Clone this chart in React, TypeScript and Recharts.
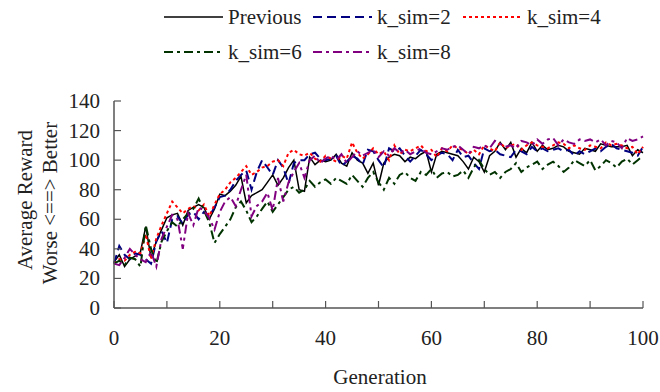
import { LineChart, Line, XAxis, YAxis } from "recharts"

const generations = Array.from({ length: 101 }, (_, i) => i)

const previous = [
  31, 36, 28, 33, 35, 38, 55, 34, 45, 53, 61, 63, 64, 56, 66, 68, 70, 68, 60, 67,
  77, 76, 79, 83, 89, 71, 76, 78, 80, 85, 90, 83, 88, 95, 100, 80, 79, 102, 97, 100,
  99, 100, 104, 98, 96, 105, 100, 98, 91, 98, 83, 98, 102, 104, 103, 99, 102, 101, 104, 106,
  92, 104, 106, 105, 104, 103, 99, 94, 102, 99, 92, 103, 106, 112, 107, 112, 102, 108, 105, 112,
  106, 110, 107, 108, 110, 109, 106, 105, 104, 108, 107, 106, 111, 110, 109, 109, 109, 110, 103, 107,
  105,
]

const ksim2 = [
  30, 42, 36, 33, 37, 36, 33, 30, 45, 52, 44, 60, 62, 57, 63, 65, 60, 65, 62, 68,
  75, 76, 80, 86, 90, 93, 80, 92, 100, 95, 90, 100, 95, 84, 98, 100, 100, 104, 105, 101,
  100, 101, 103, 96, 99, 103, 101, 97, 107, 106, 100, 95, 108, 106, 108, 103, 99, 103, 107, 104,
  100, 103, 105, 104, 100, 107, 102, 103, 98, 94, 108, 106, 107, 104, 103, 102, 107, 106, 104, 109,
  106, 108, 106, 107, 108, 106, 107, 103, 106, 104, 106, 108, 106, 109, 111, 108, 107, 106, 105, 103,
  109,
]

const ksim4 = [
  30, 33, 32, 36, 38, 37, 50, 33, 47, 56, 64, 72, 68, 64, 67, 69, 66, 70, 62, 70,
  77, 80, 85, 88, 92, 96, 90, 92, 95, 96, 99, 100, 96, 105, 107, 104, 103, 105, 101, 99,
  103, 101, 99, 103, 101, 112, 105, 101, 104, 108, 104, 106, 100, 110, 104, 107, 106, 108, 110, 106,
  107, 102, 108, 106, 110, 108, 107, 104, 107, 104, 110, 108, 106, 112, 108, 110, 111, 107, 110, 112,
  110, 109, 108, 110, 112, 111, 108, 110, 108, 107, 110, 109, 108, 112, 110, 111, 110, 108, 109, 104,
  109,
]

const ksim6 = [
  30, 32, 29, 34, 33, 28, 56, 40, 30, 45, 52, 58, 55, 60, 64, 67, 74, 66, 58, 44,
  50, 55, 60, 68, 72, 66, 58, 62, 67, 72, 65, 70, 75, 80, 82, 78, 80, 86, 82, 85,
  87, 84, 88, 86, 84, 90, 86, 82, 88, 92, 85, 80, 88, 84, 90, 92, 88, 86, 92, 90,
  94, 88, 91, 92, 89, 90, 93, 88, 95, 100, 94, 90, 92, 88, 92, 94, 98, 92, 95, 97,
  99, 94, 97, 99, 96, 92, 95, 100, 98, 96, 100, 93, 96, 100, 98, 95, 99, 101, 97, 100,
  103,
]

const ksim8 = [
  30, 29, 34, 40, 36, 33, 31, 38, 28, 47, 55, 63, 60, 40, 64, 56, 68, 66, 61, 53,
  65, 72, 75, 69, 80, 90, 62, 69, 72, 78, 66, 88, 72, 85, 92, 98, 88, 100, 103, 98,
  101, 103, 100, 104, 98, 102, 106, 103, 105, 107, 102, 106, 103, 108, 105, 107, 104, 106, 108, 105,
  104, 106, 108, 107, 109, 110, 107, 104, 109, 108, 110, 108, 113, 111, 109, 110, 108, 113, 112, 110,
  114, 111, 114, 115, 110, 114, 112, 111, 114, 113, 114, 112, 114, 110, 113, 112, 108, 115, 113, 114,
  116,
]

const xTicks = [0, 10, 20, 30, 40, 50, 60, 70, 80, 90, 100]
const yTicks = [0, 20, 40, 60, 80, 100, 120, 140]

const data = generations.map((g, i) => ({
  gen: g,
  previous: previous[i],
  ksim2: ksim2[i],
  ksim4: ksim4[i],
  ksim6: ksim6[i],
  ksim8: ksim8[i],
}))

const series = [
  { key: "previous", name: "Previous", color: "#000000", dash: undefined, width: 1.5 },
  { key: "ksim2", name: "k_sim=2", color: "#000080", dash: "9 5", width: 2 },
  { key: "ksim4", name: "k_sim=4", color: "#ff0000", dash: "3 3", width: 2 },
  { key: "ksim6", name: "k_sim=6", color: "#003300", dash: "9 4 3 4", width: 2 },
  { key: "ksim8", name: "k_sim=8", color: "#800080", dash: "9 4 3 4", width: 2 },
]

const font = "'Liberation Serif', 'Times New Roman', serif"
const axisColor = "#555"

function XTick(props: any) {
  const { x, y, payload } = props
  return (
    <g>
      <line x1={x} x2={x} y1={y} y2={y - 7} stroke={axisColor} strokeWidth={1.2} />
      {payload.value % 20 === 0 && (
        <text x={x} y={y + 37} textAnchor="middle" fontSize={21} fontFamily={font} fill="#222">
          {payload.value}
        </text>
      )}
    </g>
  )
}

function YTick(props: any) {
  const { x, y, payload } = props
  return (
    <g>
      <line x1={x} x2={x + 7} y1={y} y2={y} stroke={axisColor} strokeWidth={1.2} />
      <text x={x - 14} y={y + 7} textAnchor="end" fontSize={21} fontFamily={font} fill="#222">
        {payload.value}
      </text>
    </g>
  )
}

const legendRows = [
  [
    { s: series[0], x: 164 },
    { s: series[1], x: 313 },
    { s: series[2], x: 463 },
  ],
  [
    { s: series[3], x: 164 },
    { s: series[4], x: 313 },
  ],
]

export default function App() {
  return (
    <div style={{ position: "absolute", left: 0, top: 0, width: 660, height: 392, background: "#fff" }}>
      <LineChart width={660} height={392} data={data} margin={{ top: 101, right: 17, bottom: 54, left: 54 }}>
        <XAxis
          dataKey="gen"
          type="number"
          domain={[0, 100]}
          ticks={xTicks}
          interval={0}
          tickSize={0}
          tickMargin={0}
          height={30}
          stroke={axisColor}
          strokeWidth={1.5}
          tick={<XTick />}
        />
        <YAxis
          type="number"
          domain={[0, 140]}
          ticks={yTicks}
          interval={0}
          tickSize={0}
          tickMargin={0}
          width={60}
          stroke={axisColor}
          strokeWidth={1.5}
          tick={<YTick />}
        />
        {series.map((s) => (
          <Line
            key={s.key}
            type="linear"
            dataKey={s.key}
            name={s.name}
            stroke={s.color}
            strokeWidth={s.width}
            strokeDasharray={s.dash}
            dot={false}
            isAnimationActive={false}
          />
        ))}
      </LineChart>
      <svg
        width={660}
        height={392}
        style={{ position: "absolute", left: 0, top: 0, pointerEvents: "none" }}
      >
        {legendRows.map((row, r) =>
          row.map(({ s, x }) => {
            const y = 17 + r * 35
            return (
              <g key={s.key}>
                <line
                  x1={x}
                  x2={x + 59}
                  y1={y}
                  y2={y}
                  stroke={s.color}
                  strokeWidth={s.width}
                  strokeDasharray={s.dash}
                />
                <text x={x + 64} y={y + 7} fontSize={21} fontFamily={font} fill="#222">
                  {s.name}
                </text>
              </g>
            )
          })
        )}
        <text
          transform="translate(32,200) rotate(-90)"
          textAnchor="middle"
          fontSize={21}
          fontFamily={font}
          fill="#222"
        >
          Average Reward
        </text>
        <text
          transform="translate(57,203) rotate(-90)"
          textAnchor="middle"
          fontSize={21}
          fontFamily={font}
          fill="#222"
        >
          {"Worse <==> Better"}
        </text>
        <text x={380} y={384} textAnchor="middle" fontSize={21} fontFamily={font} fill="#222">
          Generation
        </text>
      </svg>
    </div>
  )
}
